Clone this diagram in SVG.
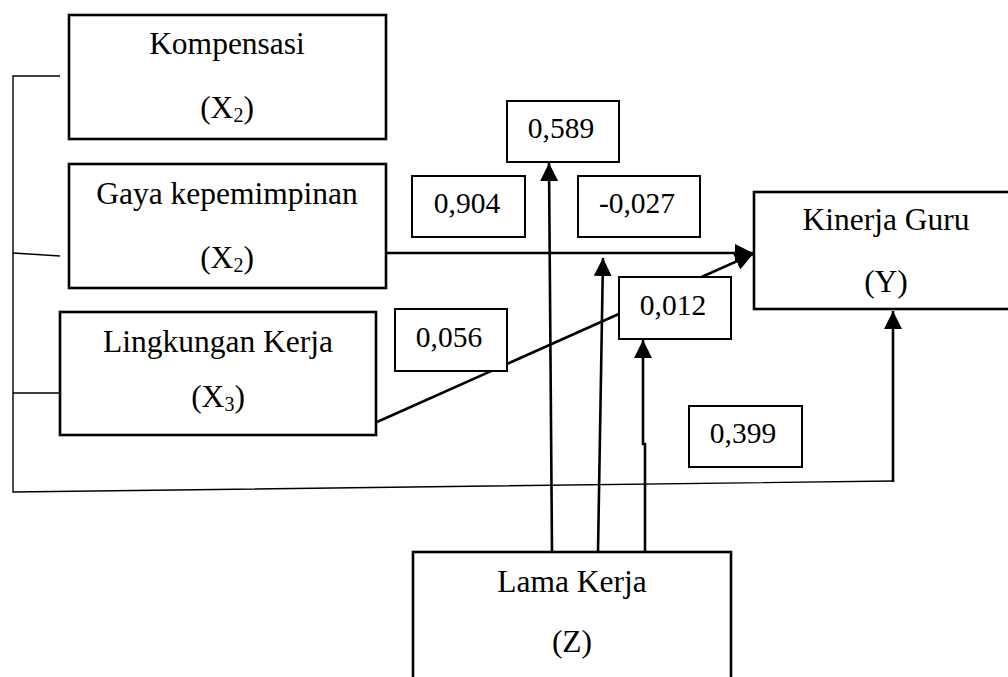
<svg xmlns="http://www.w3.org/2000/svg" width="1008" height="677" viewBox="0 0 1008 677">
<defs>
<marker id="ah" markerUnits="userSpaceOnUse" markerWidth="18" markerHeight="18" refX="16" refY="8" orient="auto" viewBox="0 0 16 16">
<path d="M0,0 L16,8 L0,16 Z" fill="#000"/>
</marker>
</defs>
<style>
.node{fill:#fff;stroke:#000;stroke-width:2.6}
.val{fill:#fff;stroke:#000;stroke-width:2}
.lbl{font-family:"Liberation Serif","Times New Roman",serif;font-size:31.5px;fill:#000;text-anchor:middle}
.num{font-family:"Liberation Serif","Times New Roman",serif;font-size:29.5px;fill:#000;text-anchor:middle}
.sub{font-size:20px}
.con{fill:none;stroke:#000;stroke-width:2.6}
.thin{fill:none;stroke:#000;stroke-width:1.4}
</style>
<rect width="1008" height="677" fill="#fff"/>
<g id="connectors">
<polyline class="thin" points="60,76 13,76 13,492 893,481"/>
<line class="thin" x1="13" y1="253" x2="60" y2="256"/>
<line class="thin" x1="13" y1="393" x2="60" y2="393"/>
<line class="con" x1="893" y1="482" x2="893" y2="311" marker-end="url(#ah)"/>
<line class="con" x1="386" y1="253" x2="753" y2="253" marker-end="url(#ah)"/>
<line class="con" x1="377" y1="422" x2="753" y2="254" marker-end="url(#ah)"/>
<line class="con" x1="552" y1="552" x2="549" y2="163" marker-end="url(#ah)"/>
<line class="con" x1="598" y1="552" x2="603" y2="258" marker-end="url(#ah)"/>
<polyline class="con" points="645,552 645,444 643,444 643,340" marker-end="url(#ah)"/>
</g>
<g id="kompensasi">
<rect class="node" x="69" y="15" width="317" height="124"/>
<text class="lbl" x="227" y="54">Kompensasi</text>
<text class="lbl" x="227" y="118">(X<tspan class="sub" dy="4">2</tspan><tspan dy="-4">)</tspan></text>
</g>
<g id="gaya">
<rect class="node" x="69" y="164" width="317" height="124"/>
<text class="lbl" x="227" y="204">Gaya kepemimpinan</text>
<text class="lbl" x="227" y="268">(X<tspan class="sub" dy="4">2</tspan><tspan dy="-4">)</tspan></text>
</g>
<g id="lingkungan">
<rect class="node" x="60" y="312" width="316" height="123"/>
<text class="lbl" x="218" y="352">Lingkungan Kerja</text>
<text class="lbl" x="218" y="407">(X<tspan class="sub" dy="4">3</tspan><tspan dy="-4">)</tspan></text>
</g>
<g id="kinerja">
<rect class="node" x="754" y="192" width="270" height="117"/>
<text class="lbl" x="886" y="230">Kinerja Guru</text>
<text class="lbl" x="886" y="292">(Y)</text>
</g>
<g id="lama">
<rect class="node" x="413" y="552" width="318" height="140"/>
<text class="lbl" x="572" y="592">Lama Kerja</text>
<text class="lbl" x="572" y="652">(Z)</text>
</g>
<g id="v589">
<rect class="val" x="507" y="101" width="112" height="61"/>
<text class="num" x="561" y="138">0,589</text>
</g>
<g id="v904">
<rect class="val" x="412" y="176" width="113" height="61"/>
<text class="num" x="467" y="213">0,904</text>
</g>
<g id="v027">
<rect class="val" x="578" y="176" width="122" height="61"/>
<text class="num" x="637" y="213">-0,027</text>
</g>
<g id="v012">
<rect class="val" x="619" y="277" width="112" height="62"/>
<text class="num" x="673" y="315">0,012</text>
</g>
<g id="v056">
<rect class="val" x="395" y="309" width="112" height="62"/>
<text class="num" x="449" y="347">0,056</text>
</g>
<g id="v399">
<rect class="val" x="689" y="406" width="113" height="61"/>
<text class="num" x="743" y="443">0,399</text>
</g>
</svg>
